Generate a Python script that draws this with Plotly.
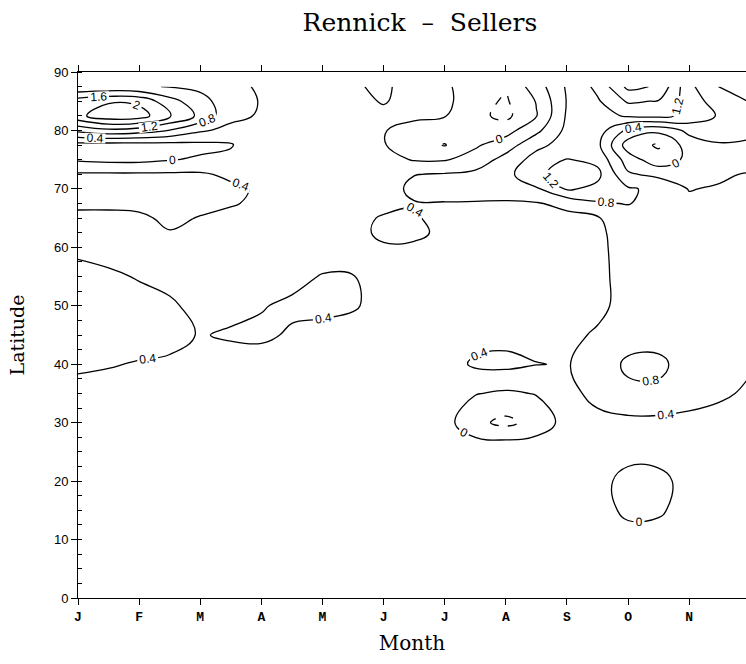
import plotly.graph_objects as go

month_idx = [0, 1, 2, 3, 4, 5, 6, 7, 8, 9, 10, 11]
month_labels = ["J", "F", "M", "A", "M", "J", "J", "A", "S", "O", "N", "D"]
grid_months = [0, 0.5, 1, 1.5, 2, 2.5, 3, 3.5, 4, 4.5, 5, 5.5, 6, 6.5, 7, 7.5, 8, 8.5, 9, 9.5, 10, 10.5, 11]

# contour field values, one list per latitude row (data stop at 87.5N)
lat87_5 = [0.85, 0.90, 0.85, 0.78, 0.70, 0.50, 0.35, 0.25, 0.20, 0.05, -0.08, 0.20, 0.08, -0.25, -0.35, 0.20, 0.85, 1.30, 2.10, 1.95, 0.90, 0.38, 0.35]
lat85   = [1.80, 1.95, 1.90, 1.35, 0.95, 0.55, 0.38, 0.25, 0.20, 0.12, -0.03, 0.15, 0.10, -0.25, -0.45, 0.02, 0.82, 1.15, 1.65, 1.58, 1.00, 0.60, 0.38]
lat82_5 = [1.90, 2.25, 2.20, 1.62, 1.10, 0.50, 0.36, 0.25, 0.20, 0.15, 0.10, 0.08, 0.02, -0.30, -0.50, -0.02, 0.85, 1.05, 1.25, 1.30, 1.10, 0.75, 0.55]
lat80   = [0.90, 1.10, 1.00, 0.78, 0.45, 0.30, 0.25, 0.22, 0.20, 0.15, 0.02, -0.15, -0.20, -0.25, -0.15, 0.30, 0.90, 1.00, 0.30, 0.10, 0.50, 0.65, 0.55]
lat77_5 = [-0.15, -0.18, -0.18, -0.15, -0.10, -0.03, 0.15, 0.20, 0.20, 0.20, 0.02, -0.20, -0.42, -0.05, 0.20, 0.70, 0.95, 0.90, -0.20, -0.45, 0.20, 0.35, 0.30]
lat75   = [-0.05, -0.10, -0.10, -0.02, 0.05, 0.10, 0.20, 0.22, 0.22, 0.22, 0.15, -0.03, -0.03, 0.15, 0.55, 0.95, 1.22, 1.10, 0.20, -0.25, 0.10, 0.15, -0.02]
lat72_5 = [0.45, 0.45, 0.45, 0.45, 0.45, 0.33, 0.30, 0.25, 0.22, 0.20, 0.20, 0.39, 0.43, 0.50, 0.68, 1.10, 1.40, 1.30, 0.45, 0.30, 0.30, 0.32, 0.45]
lat70   = [0.58, 0.60, 0.60, 0.60, 0.58, 0.47, 0.35, 0.25, 0.22, 0.20, 0.25, 0.48, 0.55, 0.52, 0.48, 0.75, 1.25, 1.10, 0.85, 0.70, 0.38, 0.45, 0.55]
lat67_5 = [0.48, 0.48, 0.50, 0.55, 0.50, 0.43, 0.33, 0.25, 0.22, 0.20, 0.25, 0.38, 0.38, 0.38, 0.38, 0.37, 0.50, 0.75, 0.82, 0.70, 0.50, 0.50, 0.55]
lat65   = [0.30, 0.30, 0.33, 0.48, 0.38, 0.30, 0.25, 0.22, 0.22, 0.25, 0.45, 0.44, 0.28, 0.25, 0.25, 0.28, 0.30, 0.38, 0.50, 0.55, 0.55, 0.52, 0.55]
lat62_5 = [0.22, 0.20, 0.20, 0.38, 0.36, 0.28, 0.22, 0.20, 0.20, 0.25, 0.50, 0.50, 0.30, 0.25, 0.25, 0.25, 0.28, 0.35, 0.52, 0.55, 0.56, 0.55, 0.55]
lat60   = [0.33, 0.28, 0.22, 0.20, 0.20, 0.20, 0.20, 0.20, 0.22, 0.25, 0.35, 0.33, 0.25, 0.22, 0.22, 0.22, 0.25, 0.32, 0.55, 0.58, 0.58, 0.55, 0.55]
lat55   = [0.50, 0.45, 0.38, 0.30, 0.22, 0.20, 0.22, 0.30, 0.42, 0.41, 0.30, 0.22, 0.20, 0.20, 0.20, 0.22, 0.25, 0.30, 0.55, 0.55, 0.55, 0.55, 0.55]
lat50   = [0.55, 0.55, 0.50, 0.45, 0.30, 0.30, 0.38, 0.46, 0.48, 0.43, 0.30, 0.22, 0.20, 0.20, 0.20, 0.22, 0.25, 0.30, 0.55, 0.58, 0.55, 0.52, 0.50]
lat45   = [0.55, 0.55, 0.52, 0.50, 0.38, 0.44, 0.46, 0.36, 0.30, 0.28, 0.25, 0.22, 0.22, 0.25, 0.28, 0.28, 0.30, 0.45, 0.60, 0.62, 0.55, 0.50, 0.45]
lat40   = [0.45, 0.42, 0.38, 0.35, 0.30, 0.25, 0.25, 0.22, 0.20, 0.20, 0.20, 0.20, 0.22, 0.46, 0.50, 0.41, 0.38, 0.55, 0.88, 0.90, 0.60, 0.50, 0.43]
lat35   = [0.30, 0.28, 0.27, 0.25, 0.23, 0.22, 0.20, 0.20, 0.20, 0.20, 0.20, 0.18, 0.15, 0.02, -0.06, 0.02, 0.30, 0.50, 0.70, 0.70, 0.55, 0.45, 0.35]
lat30   = [0.25, 0.24, 0.23, 0.22, 0.22, 0.21, 0.20, 0.20, 0.20, 0.20, 0.20, 0.20, 0.15, -0.30, -0.50, -0.25, 0.15, 0.30, 0.30, 0.30, 0.30, 0.28, 0.28]
lat25   = [0.22, 0.22, 0.22, 0.21, 0.21, 0.20, 0.20, 0.20, 0.20, 0.20, 0.22, 0.24, 0.25, 0.30, 0.35, 0.30, 0.25, 0.22, 0.15, 0.15, 0.22, 0.25, 0.25]
lat20   = [0.20, 0.20, 0.20, 0.20, 0.20, 0.20, 0.20, 0.20, 0.20, 0.20, 0.20, 0.22, 0.22, 0.22, 0.22, 0.22, 0.20, 0.15, -0.15, -0.12, 0.15, 0.20, 0.22]
lat15   = [0.20, 0.20, 0.20, 0.20, 0.20, 0.19, 0.19, 0.19, 0.19, 0.19, 0.20, 0.20, 0.20, 0.20, 0.20, 0.20, 0.20, 0.15, -0.08, -0.05, 0.15, 0.20, 0.22]
lat10   = [0.19, 0.19, 0.19, 0.19, 0.19, 0.19, 0.18, 0.18, 0.18, 0.18, 0.19, 0.19, 0.19, 0.20, 0.20, 0.20, 0.20, 0.20, 0.15, 0.15, 0.20, 0.21, 0.22]
lat5    = [0.18, 0.18, 0.18, 0.18, 0.18, 0.18, 0.18, 0.18, 0.18, 0.18, 0.18, 0.18, 0.19, 0.19, 0.19, 0.19, 0.19, 0.19, 0.19, 0.19, 0.20, 0.20, 0.20]
lat0    = [0.18, 0.18, 0.18, 0.18, 0.18, 0.18, 0.18, 0.18, 0.18, 0.18, 0.18, 0.18, 0.18, 0.18, 0.18, 0.18, 0.18, 0.18, 0.18, 0.18, 0.19, 0.19, 0.19]

latitudes = [0, 5, 10, 15, 20, 25, 30, 35, 40, 45, 50, 55, 60, 62.5, 65, 67.5, 70, 72.5, 75, 77.5, 80, 82.5, 85, 87.5]
z_rows = [lat0, lat5, lat10, lat15, lat20, lat25, lat30, lat35, lat40, lat45, lat50, lat55,
          lat60, lat62_5, lat65, lat67_5, lat70, lat72_5, lat75, lat77_5, lat80, lat82_5,
          lat85, lat87_5]

serif = "DejaVu Serif"

fig = go.Figure()
# non-negative contours: solid
fig.add_trace(go.Contour(
    x=grid_months, y=latitudes, z=z_rows,
    contours=dict(start=0, end=2.4, size=0.4, coloring="none", showlabels=True,
                  labelfont=dict(size=12, color="black", family="Liberation Sans"),
                  labelformat=".2~g"),
    line=dict(color="black", width=1.3, smoothing=1.2),
    showscale=False, hoverinfo="skip"))
# negative contours: dashed
fig.add_trace(go.Contour(
    x=grid_months, y=latitudes, z=z_rows,
    contours=dict(start=-2.0, end=-0.4, size=0.4, coloring="none", showlabels=True,
                  labelfont=dict(size=12, color="black", family="Liberation Sans"),
                  labelformat=".2~g"),
    line=dict(color="black", width=1.3, dash="dash", smoothing=1.2),
    showscale=False, hoverinfo="skip"))

fig.update_layout(
    width=746, height=664,
    margin=dict(l=78, r=0, t=72, b=66, autoexpand=False),
    paper_bgcolor="white", plot_bgcolor="white",
    showlegend=False,
    title=dict(text="Rennick\u00a0\u00a0\u2013\u00a0\u00a0Sellers", x=0.563, xref="container",
               y=0.967, yref="container", xanchor="center", yanchor="middle",
               font=dict(family=serif, size=25, color="black")),
    xaxis=dict(range=[0, 10.93], tickvals=month_idx, automargin=False,
               ticktext=["<b>" + m + "</b>" for m in month_labels],
               tickfont=dict(family="Liberation Mono", size=13, color="black"),
               ticks="outside", ticklen=6, tickcolor="black",
               showline=True, linecolor="black", linewidth=1, mirror="ticks",
               showgrid=False, zeroline=False,
               title=dict(text="Month", font=dict(family=serif, size=20, color="black"), standoff=12)),
    yaxis=dict(range=[0, 90], dtick=10, tick0=0, automargin=False,
               tickfont=dict(family="Liberation Sans", size=13, color="black"),
               ticks="outside", ticklen=6, tickcolor="black",
               minor=dict(dtick=2.5, ticks="inside", ticklen=4, tickcolor="black"),
               showline=True, linecolor="black", linewidth=1, mirror=True,
               showgrid=False, zeroline=False,
               title=dict(text="Latitude", font=dict(family=serif, size=19, color="black"), standoff=24)),
)

fig.write_html("out.html", config={"displayModeBar": False},
               post_script="document.body.style.margin='0';document.body.style.overflow='hidden';")
